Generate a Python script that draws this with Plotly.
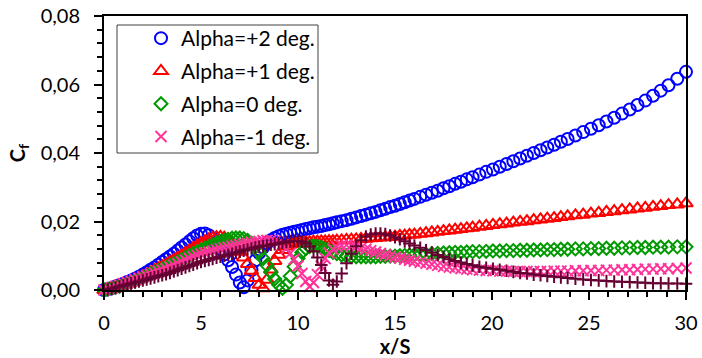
import plotly.graph_objects as go

X = [0.0, 0.2, 0.4, 0.6, 0.8, 1.0, 1.2, 1.4, 1.6, 1.8,
     2.0, 2.2, 2.4, 2.6, 2.8, 3.0, 3.2, 3.4, 3.6, 3.8,
     4.0, 4.2, 4.4, 4.6, 4.8, 5.0, 5.2, 5.4, 5.6, 5.8,
     6.0, 6.2, 6.4, 6.6, 6.8, 7.0, 7.2, 7.4, 7.6, 7.8,
     8.0, 8.2, 8.4, 8.6, 8.8, 9.0, 9.2, 9.4, 9.6, 9.8,
     10.0, 10.2, 10.4, 10.6, 10.8, 11.0, 11.2, 11.4, 11.6, 11.8,
     12.0, 12.25, 12.5, 12.75, 13.0, 13.25, 13.5, 13.75, 14.0, 14.25,
     14.5, 14.75, 15.0, 15.25, 15.5, 15.75, 16.0, 16.3, 16.6, 16.9,
     17.2, 17.5, 17.8, 18.1, 18.4, 18.7, 19.0, 19.35, 19.7, 20.05,
     20.4, 20.75, 21.1, 21.45, 21.8, 22.15, 22.5, 22.85, 23.2, 23.55,
     23.9, 24.3, 24.7, 25.1, 25.5, 25.9, 26.3, 26.7, 27.1, 27.5,
     27.9, 28.3, 28.7, 29.1, 29.55, 30.0]

CF_P2 = [0.0000, 0.0003, 0.0006, 0.0010, 0.0014, 0.0018, 0.0023, 0.0028, 0.0033, 0.0039,
         0.0045, 0.0052, 0.0059, 0.0066, 0.0074, 0.0082, 0.0090, 0.0098, 0.0106, 0.0115,
         0.0124, 0.0133, 0.0142, 0.0151, 0.0159, 0.0164, 0.0165, 0.0160, 0.0150, 0.0135,
         0.0118, 0.0104, 0.0087, 0.0067, 0.0045, 0.0022, 0.0008, 0.0028, 0.0058, 0.0086,
         0.0108, 0.0124, 0.0136, 0.0145, 0.0152, 0.0157, 0.0161, 0.0164, 0.0167, 0.0170,
         0.0172, 0.0175, 0.0178, 0.0180, 0.0183, 0.0185, 0.0187, 0.0190, 0.0192, 0.0195,
         0.0198, 0.0201, 0.0204, 0.0208, 0.0212, 0.0216, 0.0220, 0.0224, 0.0228, 0.0233,
         0.0237, 0.0242, 0.0246, 0.0251, 0.0256, 0.0261, 0.0266, 0.0272, 0.0278, 0.0284,
         0.0290, 0.0297, 0.0303, 0.0310, 0.0316, 0.0323, 0.0329, 0.0337, 0.0345, 0.0352,
         0.0360, 0.0368, 0.0376, 0.0384, 0.0392, 0.0400, 0.0408, 0.0416, 0.0424, 0.0433,
         0.0441, 0.0451, 0.0461, 0.0471, 0.0481, 0.0492, 0.0503, 0.0515, 0.0527, 0.0540,
         0.0553, 0.0567, 0.0582, 0.0598, 0.0617, 0.0637]

CF_P1 = [0.0000, 0.0003, 0.0006, 0.0009, 0.0013, 0.0017, 0.0021, 0.0025, 0.0030, 0.0035,
         0.0040, 0.0045, 0.0051, 0.0057, 0.0063, 0.0069, 0.0075, 0.0082, 0.0088, 0.0095,
         0.0102, 0.0109, 0.0116, 0.0123, 0.0130, 0.0137, 0.0143, 0.0148, 0.0152, 0.0154,
         0.0155, 0.0153, 0.0148, 0.0139, 0.0127, 0.0112, 0.0095, 0.0076, 0.0056, 0.0035,
         0.0015, 0.0005, 0.0030, 0.0060, 0.0085, 0.0103, 0.0117, 0.0127, 0.0133, 0.0136,
         0.0138, 0.0139, 0.0140, 0.0140, 0.0141, 0.0141, 0.0142, 0.0142, 0.0143, 0.0143,
         0.0144, 0.0145, 0.0146, 0.0147, 0.0148, 0.0149, 0.0150, 0.0151, 0.0152, 0.0153,
         0.0154, 0.0155, 0.0156, 0.0158, 0.0159, 0.0161, 0.0162, 0.0164, 0.0166, 0.0168,
         0.0170, 0.0172, 0.0174, 0.0176, 0.0178, 0.0180, 0.0182, 0.0185, 0.0187, 0.0190,
         0.0192, 0.0194, 0.0197, 0.0199, 0.0201, 0.0204, 0.0206, 0.0208, 0.0210, 0.0213,
         0.0215, 0.0218, 0.0220, 0.0223, 0.0225, 0.0228, 0.0230, 0.0233, 0.0235, 0.0238,
         0.0240, 0.0243, 0.0245, 0.0248, 0.0250, 0.0253]

CF_0 = [0.0000, 0.0002, 0.0005, 0.0008, 0.0011, 0.0015, 0.0019, 0.0023, 0.0027, 0.0031,
        0.0036, 0.0041, 0.0046, 0.0051, 0.0056, 0.0061, 0.0066, 0.0072, 0.0077, 0.0083,
        0.0089, 0.0095, 0.0101, 0.0107, 0.0112, 0.0117, 0.0122, 0.0127, 0.0132, 0.0137,
        0.0141, 0.0145, 0.0148, 0.0151, 0.0152, 0.0152, 0.0150, 0.0145, 0.0137, 0.0125,
        0.0110, 0.0092, 0.0072, 0.0052, 0.0032, 0.0015, 0.0005, 0.0015, 0.0040, 0.0068,
        0.0092, 0.0110, 0.0121, 0.0127, 0.0129, 0.0128, 0.0125, 0.0120, 0.0115, 0.0110,
        0.0106, 0.0102, 0.0100, 0.0098, 0.0097, 0.0097, 0.0097, 0.0097, 0.0097, 0.0098,
        0.0098, 0.0099, 0.0099, 0.0100, 0.0101, 0.0102, 0.0103, 0.0104, 0.0105, 0.0106,
        0.0107, 0.0108, 0.0109, 0.0110, 0.0110, 0.0111, 0.0112, 0.0112, 0.0113, 0.0114,
        0.0114, 0.0115, 0.0115, 0.0116, 0.0116, 0.0117, 0.0117, 0.0118, 0.0118, 0.0119,
        0.0119, 0.0120, 0.0120, 0.0121, 0.0121, 0.0122, 0.0122, 0.0123, 0.0123, 0.0124,
        0.0124, 0.0125, 0.0125, 0.0125, 0.0126, 0.0126]

CF_M1 = [0.0000, 0.0003, 0.0006, 0.0010, 0.0014, 0.0018, 0.0022, 0.0026, 0.0030, 0.0034,
         0.0038, 0.0042, 0.0046, 0.0050, 0.0054, 0.0058, 0.0062, 0.0067, 0.0072, 0.0077,
         0.0082, 0.0087, 0.0092, 0.0097, 0.0101, 0.0105, 0.0108, 0.0111, 0.0114, 0.0117,
         0.0120, 0.0123, 0.0125, 0.0128, 0.0130, 0.0132, 0.0134, 0.0136, 0.0138, 0.0140,
         0.0142, 0.0144, 0.0145, 0.0145, 0.0143, 0.0139, 0.0132, 0.0121, 0.0107, 0.0090,
         0.0070, 0.0048, 0.0025, 0.0010, 0.0022, 0.0045, 0.0070, 0.0092, 0.0108, 0.0119,
         0.0126, 0.0130, 0.0131, 0.0130, 0.0127, 0.0123, 0.0119, 0.0115, 0.0111, 0.0107,
         0.0103, 0.0099, 0.0096, 0.0093, 0.0090, 0.0087, 0.0084, 0.0081, 0.0078, 0.0075,
         0.0072, 0.0069, 0.0067, 0.0065, 0.0063, 0.0061, 0.0059, 0.0058, 0.0057, 0.0056,
         0.0055, 0.0055, 0.0054, 0.0054, 0.0054, 0.0054, 0.0054, 0.0054, 0.0055, 0.0055,
         0.0055, 0.0056, 0.0056, 0.0057, 0.0057, 0.0058, 0.0058, 0.0059, 0.0059, 0.0060,
         0.0061, 0.0061, 0.0062, 0.0062, 0.0063, 0.0064]

CF_M2 = [0.0000, 0.0002, 0.0004, 0.0007, 0.0010, 0.0013, 0.0016, 0.0019, 0.0022, 0.0025,
         0.0028, 0.0031, 0.0034, 0.0037, 0.0040, 0.0043, 0.0046, 0.0050, 0.0054, 0.0058,
         0.0062, 0.0066, 0.0070, 0.0074, 0.0078, 0.0082, 0.0085, 0.0088, 0.0091, 0.0094,
         0.0097, 0.0100, 0.0103, 0.0106, 0.0109, 0.0112, 0.0115, 0.0118, 0.0121, 0.0124,
         0.0126, 0.0128, 0.0130, 0.0132, 0.0134, 0.0136, 0.0138, 0.0140, 0.0142, 0.0143,
         0.0143, 0.0141, 0.0136, 0.0127, 0.0113, 0.0095, 0.0073, 0.0050, 0.0028, 0.0015,
         0.0025, 0.0048, 0.0078, 0.0106, 0.0128, 0.0145, 0.0156, 0.0162, 0.0165, 0.0165,
         0.0163, 0.0159, 0.0154, 0.0148, 0.0142, 0.0136, 0.0130, 0.0123, 0.0116, 0.0109,
         0.0102, 0.0096, 0.0090, 0.0085, 0.0080, 0.0076, 0.0072, 0.0068, 0.0065, 0.0062,
         0.0059, 0.0056, 0.0053, 0.0050, 0.0048, 0.0045, 0.0043, 0.0041, 0.0039, 0.0037,
         0.0035, 0.0033, 0.0031, 0.0029, 0.0028, 0.0026, 0.0025, 0.0024, 0.0023, 0.0022,
         0.0021, 0.0020, 0.0020, 0.0019, 0.0019, 0.0018]

NAMES = ["Alpha=+2 deg.", "Alpha=+1 deg.", "Alpha=0 deg.", "Alpha=-1 deg.", "Alpha=-2 deg."]
SERIES = [CF_P2, CF_P1, CF_0, CF_M1, CF_M2]
COLORS = ["#0000FF", "#FF0000", "#009900", "#FF3399", "#660033"]
SYMBOLS = ["circle-open", "triangle-up-open", "diamond-open", "x-thin-open", "cross-thin-open"]
SIZES = [12, 12, 10, 11, 9]
SHOWLEG = [True, True, True, True, False]

FONT = "Lato, 'Open Sans', sans-serif"

fig = go.Figure()
for i in range(5):
    fig.add_trace(go.Scatter(
        x=X, y=SERIES[i], mode="markers", name=NAMES[i],
        legendgroup=str(i), showlegend=SHOWLEG[i], cliponaxis=False,
        marker=dict(symbol=SYMBOLS[i], size=SIZES[i], color=COLORS[i],
                    line=dict(color=COLORS[i], width=2)),
    ))

fig.add_shape(type="rect", xref="paper", yref="paper",
              x0=(117 - 104) / 582, x1=(318 - 104) / 582,
              y0=(290 - 153) / 274, y1=(290 - 25) / 274,
              line=dict(color="#404040", width=1), fillcolor="white", layer="below")

fig.update_layout(
    width=702, height=358,
    margin=dict(l=104, r=16, t=16, b=68, autoexpand=False),
    paper_bgcolor="white", plot_bgcolor="white",
    separators=",.",
    font=dict(family=FONT, size=20, color="black"),
    showlegend=True,
    legend=dict(x=(141 - 104) / 582, y=(290 - 18) / 274, xanchor="left", yanchor="top",
                bgcolor="rgba(0,0,0,0)", borderwidth=0, traceorder="grouped",
                tracegroupgap=2.5, font=dict(family=FONT, size=21, color="black")),
    xaxis=dict(range=[0, 30], dtick=5, tick0=0, showgrid=False, zeroline=False,
               showline=True, linecolor="black", linewidth=2, mirror=True,
               ticks="outside", ticklen=8, tickwidth=2, tickcolor="black",
               minor=dict(dtick=1, ticks="outside", ticklen=5, tickwidth=2, tickcolor="black"),
               ticklabelstandoff=6, automargin=False,
               title=dict(text="<b>x/S</b>", font=dict(family=FONT, size=20), standoff=4)),
    yaxis=dict(range=[0, 0.08], dtick=0.02, tick0=0, tickformat=".2f", showgrid=False,
               zeroline=False, showline=True, linecolor="black", linewidth=2, mirror=True,
               ticks="outside", ticklen=8, tickwidth=2, tickcolor="black",
               minor=dict(dtick=0.004, ticks="outside", ticklen=5, tickwidth=2, tickcolor="black"),
               ticklabelstandoff=10, automargin=False,
               title=dict(text="<b>C<sub>f</sub></b>", font=dict(family=FONT, size=20), standoff=10)),
)

fig.write_html("out.html")
